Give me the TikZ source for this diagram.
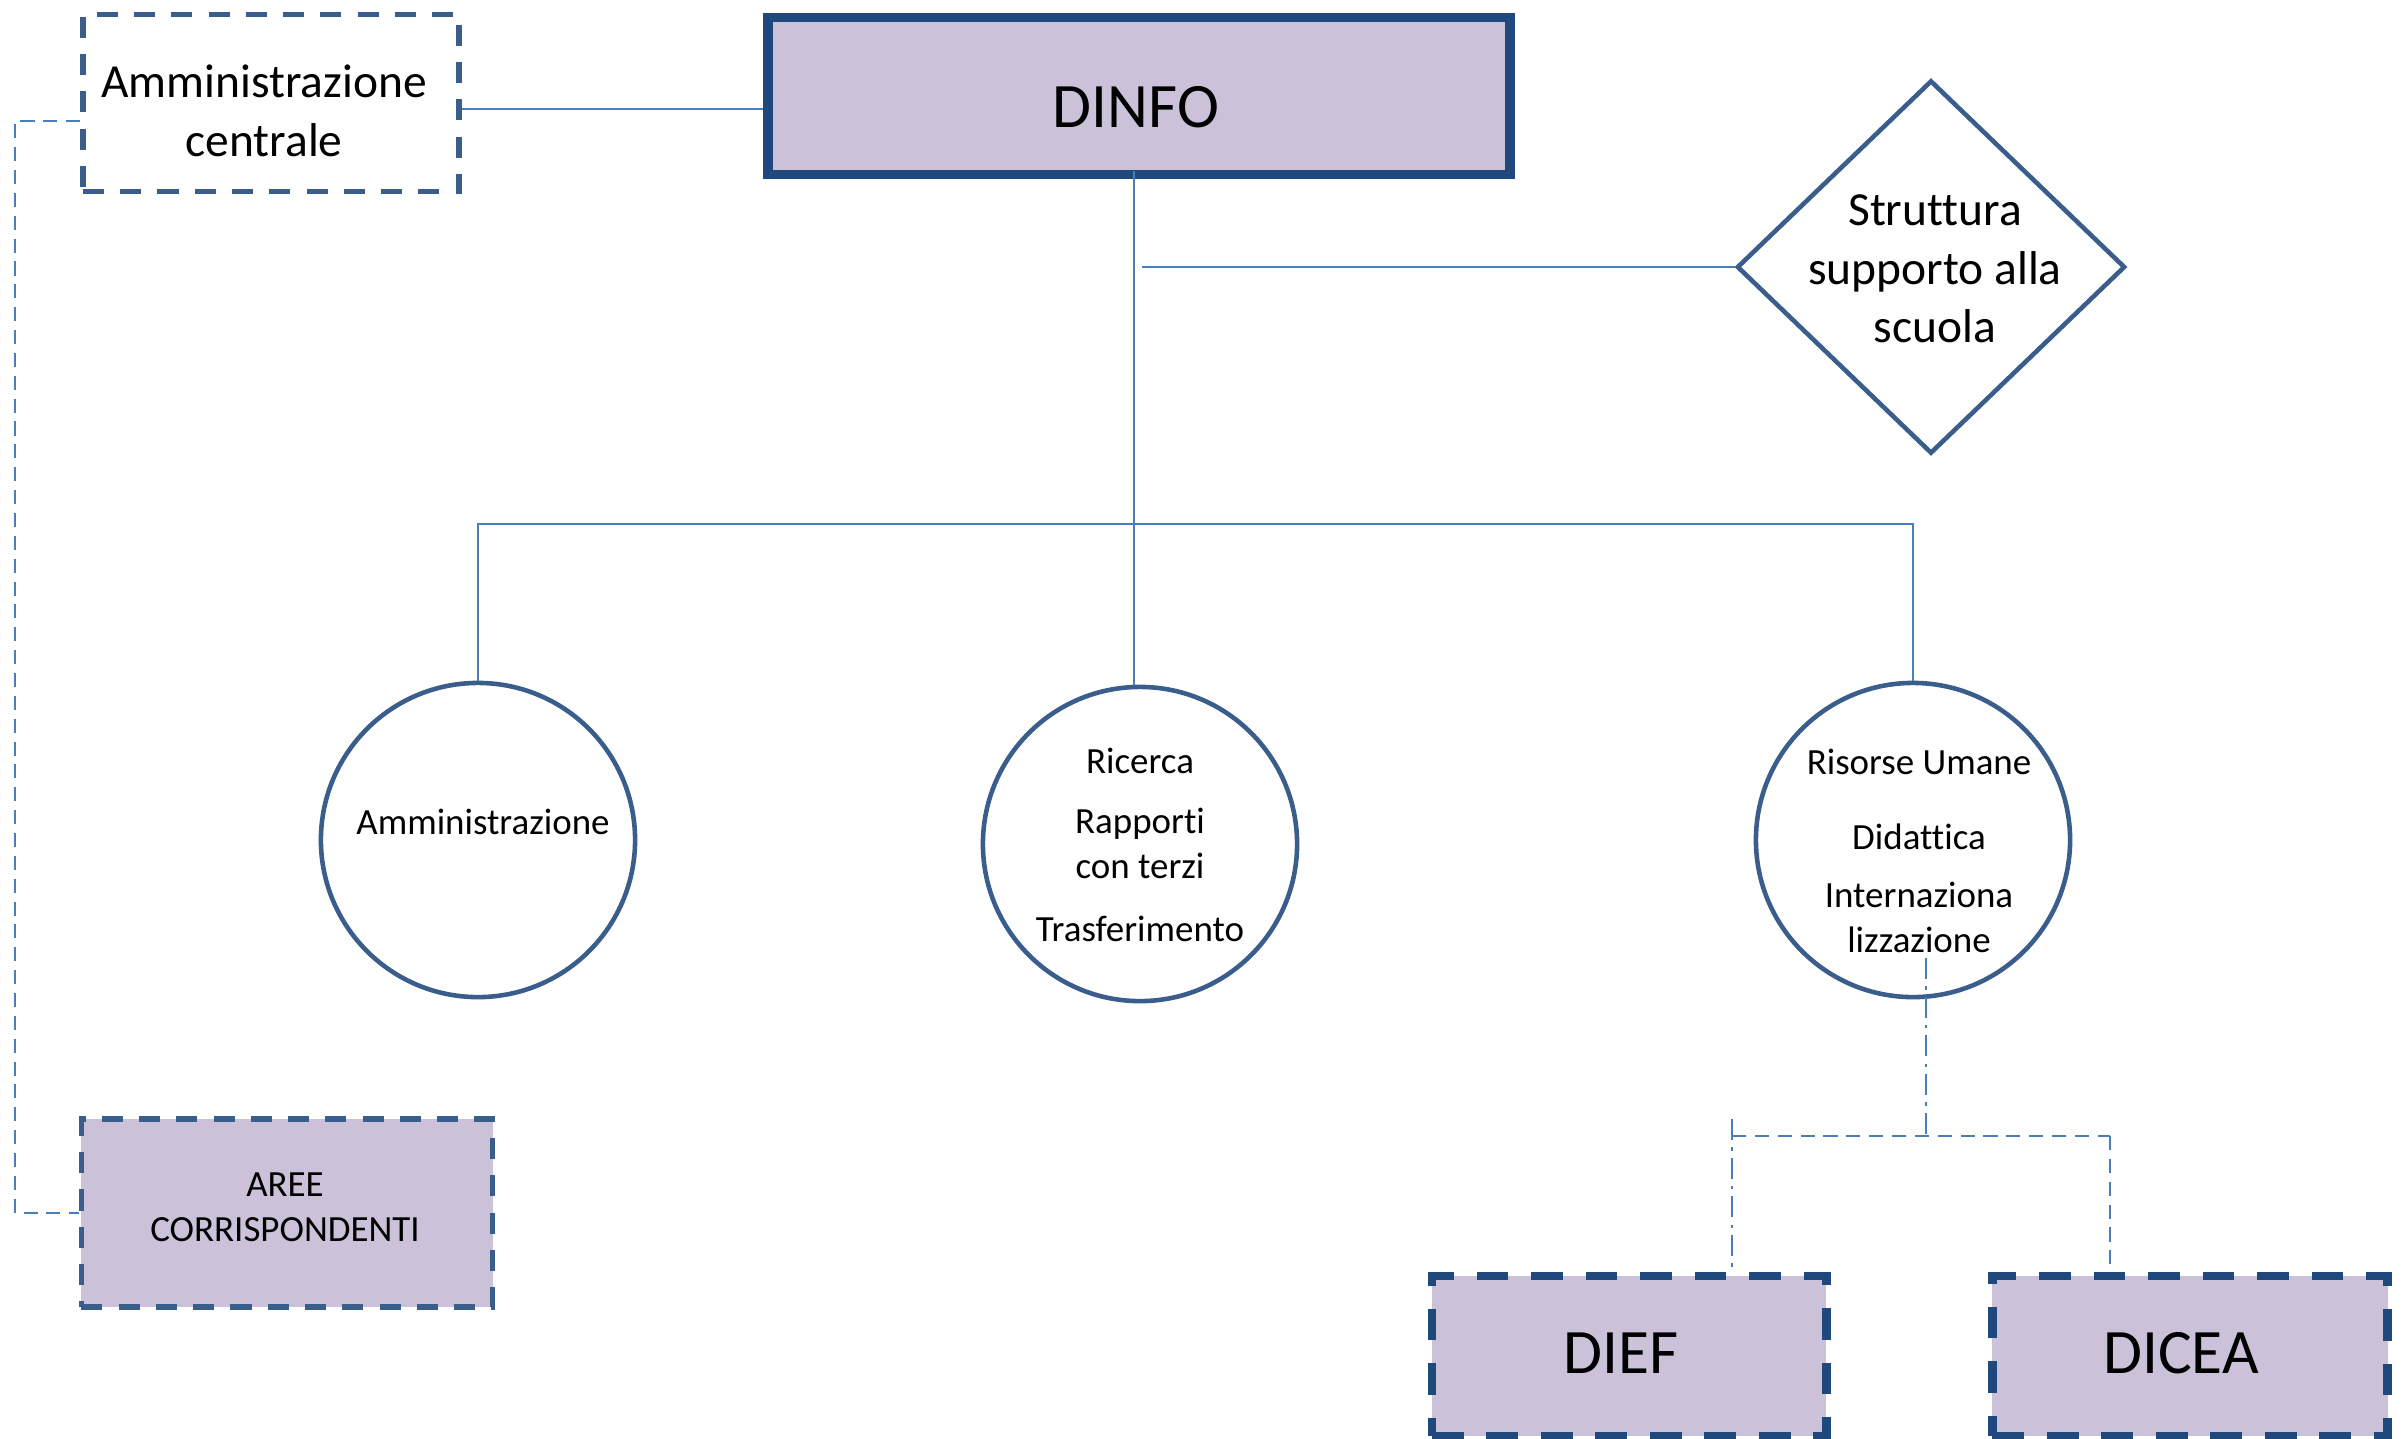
\documentclass[tikz,border=0pt]{standalone}
\usepackage{fontspec}
\setmainfont{Carlito}[Ligatures=NoCommon]
\usetikzlibrary{shapes.geometric}
\definecolor{lav}{HTML}{CBC2DA}
\definecolor{dkb}{HTML}{1F497D}
\definecolor{mdb}{HTML}{3A5D8C}
\definecolor{ln}{HTML}{4A7EBB}
\begin{document}
\begin{tikzpicture}[x=0.01cm,y=-0.01cm,
  boxdash/.style={rectangle,draw=mdb,line width=1.5pt,dash pattern=on 6pt off 4.6pt,inner sep=0pt},
  bigdash/.style={rectangle,draw=dkb,line width=2.5pt,dash pattern=on 9pt off 6.5pt,fill=lav,inner sep=0pt},
  circ/.style={circle,draw=mdb,line width=1.3pt,fill=white,minimum size=3.14cm,inner sep=0pt},
  conn/.style={draw=ln,line width=0.55pt},
  thindash/.style={draw=ln,line width=0.55pt,dash pattern=on 4pt off 2.5pt},
  dashdotline/.style={draw=ln,line width=0.55pt,dash pattern=on 6pt off 2pt on 1pt off 2pt},
  bigtxt/.style={font=\fontsize{13.5}{16.6}\selectfont,align=center,inner sep=0pt},
  smalltxt/.style={font=\fontsize{10.5}{12.8}\selectfont,align=center,inner sep=0pt},
  hugetxt/.style={font=\fontsize{18}{22}\selectfont,inner sep=0pt}]
\clip (0,0) rectangle (2403,1438);
\fill[white] (0,0) rectangle (2403,1438);

% boxes
\node[boxdash,minimum width=3.76cm,minimum height=1.77cm] (ammc) at (271,103) {};
\node[bigtxt] (ammcT) at (264,111) {Amministrazione\\centrale};

\node[rectangle,draw=dkb,line width=2.8pt,fill=lav,minimum width=7.41cm,minimum height=1.57cm,inner sep=0pt] (dinfo) at (1139,96) {};
\node[hugetxt] (dinfoT) at (1136,107) {DINFO};

\node[diamond,draw=mdb,line width=1.3pt,minimum width=3.88cm,minimum height=3.73cm,inner sep=0pt] (dia) at (1931,267) {};
\node[bigtxt] (diaT) at (1935,269) {Struttura\\supporto alla\\scuola};

\node[circ] (adm) at (478,840) {};
\node[smalltxt] (admT) at (483,822) {Amministrazione};

\node[circ] (ric) at (1140,844) {};
\node[smalltxt] (ricT) at (1140,845) {Ricerca\\[4.4pt]Rapporti\\con terzi\\[5.2pt]Trasferimento};

\node[circ] (ris) at (1913,840) {};
\node[smalltxt] (risT) at (1919,851) {Risorse Umane\\[8.6pt]Didattica\\[3.8pt]Internaziona\\lizzazione};

\node[boxdash,fill=lav,minimum width=4.11cm,minimum height=1.88cm] (aree) at (287,1213) {};
\node[smalltxt] (areeT) at (285,1207) {AREE\\CORRISPONDENTI};

\node[bigdash,minimum width=3.94cm,minimum height=1.60cm] (dief) at (1629,1356) {};
\node[hugetxt] (diefT) at (1621,1353) {DIEF};

\node[bigdash,minimum width=3.95cm,minimum height=1.60cm] (dicea) at (2190,1356) {};
\node[hugetxt] (diceaT) at (2181,1353) {DICEA};

% connectors
\path (ammc.east) ++(0,6) coordinate (c1);
\draw[conn] (c1) -- (c1 -| dinfo.west);

\path (dinfo.south) ++(-5,-8) coordinate (vt);
\draw[conn] (vt) -- (vt |- ric.north);

\path (vt |- dia.west) ++(8,0) coordinate (c3);
\draw[conn] (c3) -- (dia.west);

\coordinate (jy) at (0,524);
\draw[conn] (adm.north) -- (adm.north |- jy) -- (ris.north |- jy) -- (ris.north);

\path (ammc.west) ++(0,18) coordinate (c2);
\coordinate (lx) at (15,0);
\draw[thindash] (c2) -- (c2 -| lx) -- (lx |- aree.west) -- (aree.west);

\coordinate (rs) at (1926,958);
\coordinate (hb) at (1926,1136);
\coordinate (bl) at (1732,1119);
\coordinate (br) at (2110,1136);
\draw[dashdotline] (rs) -- (hb);
\draw[thindash] (hb -| bl) -- (br);
\draw[dashdotline] (bl) -- (bl |- dief.north);
\draw[thindash] (br) -- (br |- dicea.north);
\end{tikzpicture}
\end{document}
